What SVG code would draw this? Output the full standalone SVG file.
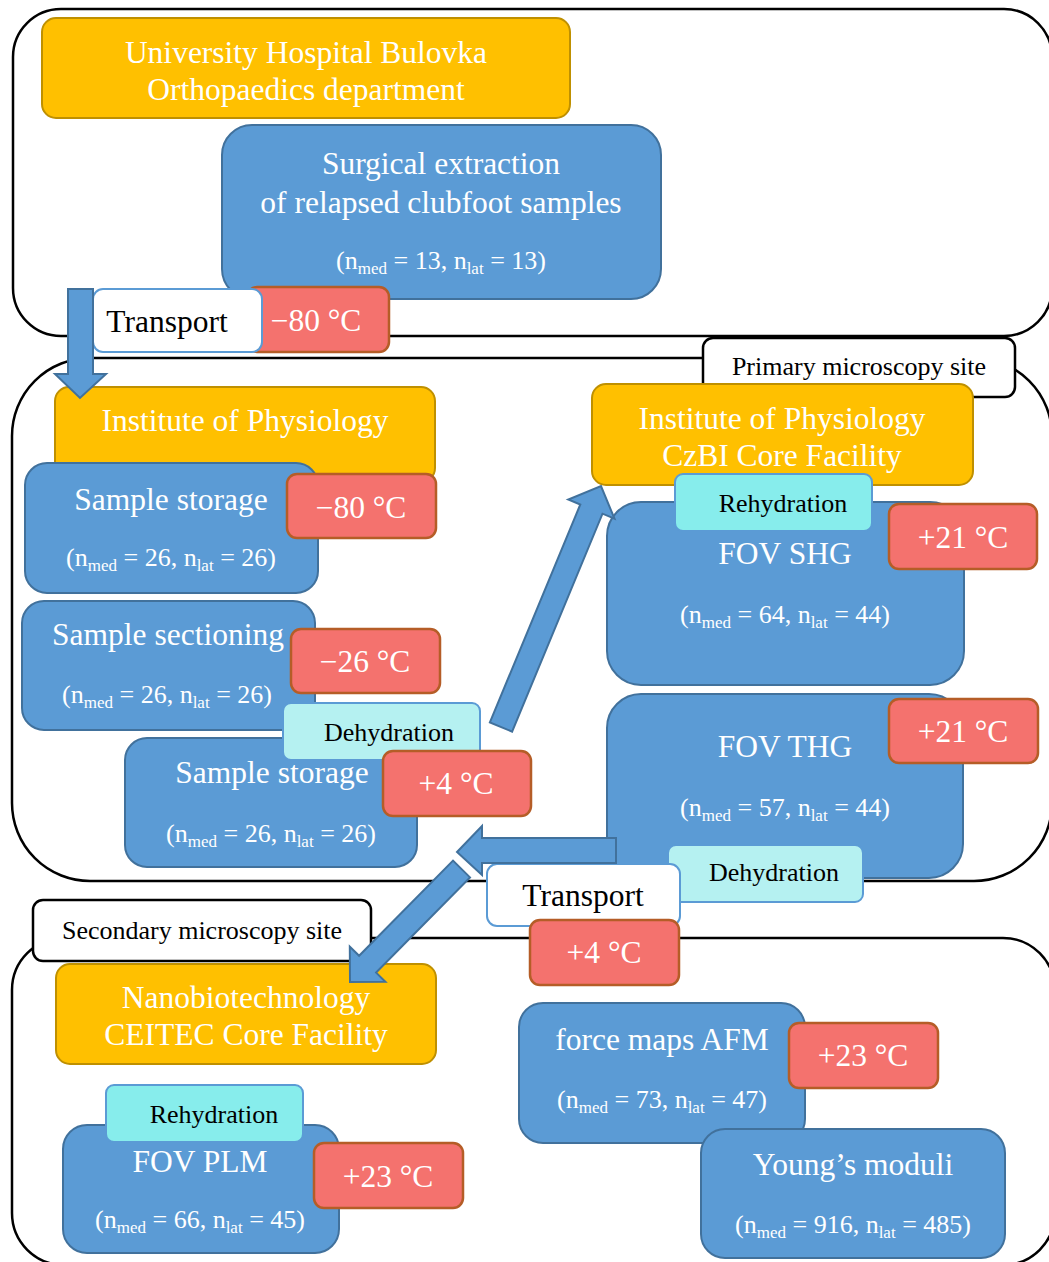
<svg xmlns="http://www.w3.org/2000/svg" width="1049" height="1262" viewBox="0 0 1049 1262">
<style>
text{font-family:"Liberation Serif","Times New Roman",serif}
.ctr{fill:none;stroke:#000;stroke-width:2.5}
.org{fill:#FFC000;stroke:#BF9000;stroke-width:2}
.blu{fill:#5B9BD5;stroke:#41719C;stroke-width:2}
.red{fill:#F4726E;stroke:#B55D27;stroke-width:2.5}
.deh{fill:#B5F1F1;stroke:#5B9BD5;stroke-width:2}
.reh{fill:#87EDEC;stroke:#5B9BD5;stroke-width:2}
.trn{fill:#fff;stroke:#5B9BD5;stroke-width:2}
.lbl{fill:#fff;stroke:#000;stroke-width:2.5}
.arr{fill:#5B9BD5;stroke:#41719C;stroke-width:2}
.tw{fill:#fff;font-size:31.5px;text-anchor:middle}
.tn{fill:#fff;font-size:26px;text-anchor:middle}
.tb{fill:#000;font-size:26px;text-anchor:middle}
.tk{fill:#000;font-size:31.5px;text-anchor:middle}
.sub{font-size:17px}
</style>
<rect width="1049" height="1262" fill="#fff"/>
<g id="containers">
<rect id="site-hospital" class="ctr" x="13" y="9" width="1039" height="327" rx="48"/>
<rect id="site-primary" class="ctr" x="12" y="358" width="1040" height="523" rx="78"/>
<rect id="site-secondary" class="ctr" x="12" y="938" width="1043" height="327" rx="52"/>
</g>

<g id="n-bulovka"><rect class="org" x="42" y="18" width="528" height="100" rx="14"/>
<text class="tw" x="306" y="63">University Hospital Bulovka</text>
<text class="tw" x="306" y="100">Orthopaedics department</text></g>

<g id="n-surgical"><rect class="blu" x="222" y="125" width="439" height="174" rx="30"/>
<text class="tw" x="441" y="174">Surgical extraction</text>
<text class="tw" x="441" y="213">of relapsed clubfoot samples</text>
<text class="tn" x="441" y="269">(n<tspan class="sub" dy="5">med</tspan><tspan dy="-5"> = 13, n</tspan><tspan class="sub" dy="5">lat</tspan><tspan dy="-5"> = 13)</tspan></text></g>

<g id="n-temp1"><rect class="red" x="247" y="287" width="142" height="65" rx="10"/>
<text class="tw" x="316" y="331">−80 °C</text></g>

<g id="n-transport1"><rect class="trn" x="93" y="289" width="169" height="63" rx="10"/>
<text class="tk" x="167" y="332">Transport</text></g>

<g id="n-primary-label"><rect class="lbl" x="703" y="338" width="312" height="59" rx="10"/>
<text class="tb" x="859" y="375">Primary microscopy site</text></g>

<g id="n-iop"><rect class="org" x="55" y="387" width="380" height="95" rx="14"/>
<text class="tw" x="245" y="431">Institute of Physiology</text></g>

<g id="n-storage1"><rect class="blu" x="25" y="463" width="293" height="130" rx="22"/>
<text class="tw" x="171" y="510">Sample storage</text>
<text class="tn" x="171" y="566">(n<tspan class="sub" dy="5">med</tspan><tspan dy="-5"> = 26, n</tspan><tspan class="sub" dy="5">lat</tspan><tspan dy="-5"> = 26)</tspan></text></g>

<g id="n-temp2"><rect class="red" x="287" y="474" width="149" height="64" rx="10"/>
<text class="tw" x="361" y="518">−80 °C</text></g>

<g id="n-sectioning"><rect class="blu" x="22" y="601" width="293" height="129" rx="22"/>
<text class="tw" x="168" y="645">Sample sectioning</text>
<text class="tn" x="167" y="703">(n<tspan class="sub" dy="5">med</tspan><tspan dy="-5"> = 26, n</tspan><tspan class="sub" dy="5">lat</tspan><tspan dy="-5"> = 26)</tspan></text></g>

<g id="n-temp3"><rect class="red" x="291" y="629" width="149" height="64" rx="10"/>
<text class="tw" x="365" y="672">−26 °C</text></g>

<g id="n-storage2"><rect class="blu" x="125" y="738" width="292" height="129" rx="22"/>
<text class="tw" x="272" y="783">Sample storage</text>
<text class="tn" x="271" y="842">(n<tspan class="sub" dy="5">med</tspan><tspan dy="-5"> = 26, n</tspan><tspan class="sub" dy="5">lat</tspan><tspan dy="-5"> = 26)</tspan></text></g>

<g id="n-dehydration1"><rect class="deh" x="283" y="703" width="197" height="57" rx="8"/>
<text class="tb" x="389" y="741">Dehydration</text></g>

<g id="n-temp4"><rect class="red" x="383" y="751" width="148" height="65" rx="10"/>
<text class="tw" x="456" y="794">+4 °C</text></g>

<g id="n-czbi"><rect class="org" x="592" y="384" width="381" height="101" rx="14"/>
<text class="tw" x="782" y="429">Institute of Physiology</text>
<text class="tw" x="782" y="466">CzBI Core Facility</text></g>

<g id="n-shg"><rect class="blu" x="607" y="502" width="357" height="183" rx="34"/>
<text class="tw" x="785" y="564">FOV SHG</text>
<text class="tn" x="785" y="623">(n<tspan class="sub" dy="5">med</tspan><tspan dy="-5"> = 64, n</tspan><tspan class="sub" dy="5">lat</tspan><tspan dy="-5"> = 44)</tspan></text></g>

<g id="n-rehydration1"><rect class="reh" x="675" y="474" width="197" height="57" rx="8"/>
<text class="tb" x="783" y="512">Rehydration</text></g>

<g id="n-temp5"><rect class="red" x="889" y="504" width="148" height="65" rx="10"/>
<text class="tw" x="963" y="548">+21 °C</text></g>

<g id="n-thg"><rect class="blu" x="607" y="694" width="356" height="184" rx="34"/>
<text class="tw" x="785" y="757">FOV THG</text>
<text class="tn" x="785" y="816">(n<tspan class="sub" dy="5">med</tspan><tspan dy="-5"> = 57, n</tspan><tspan class="sub" dy="5">lat</tspan><tspan dy="-5"> = 44)</tspan></text></g>

<g id="n-temp6"><rect class="red" x="889" y="699" width="149" height="64" rx="10"/>
<text class="tw" x="963" y="742">+21 °C</text></g>

<g id="n-dehydration2"><rect class="deh" x="668" y="845" width="195" height="57" rx="8"/>
<text class="tb" x="774" y="881">Dehydration</text></g>

<g id="n-transport2"><rect class="trn" x="487" y="864" width="193" height="62" rx="10"/>
<text class="tk" x="583" y="906">Transport</text></g>

<g id="n-temp7"><rect class="red" x="530" y="920" width="149" height="65" rx="10"/>
<text class="tw" x="604" y="963">+4 °C</text></g>

<g id="n-secondary-label"><rect class="lbl" x="33" y="900" width="338" height="61" rx="10"/>
<text class="tb" x="202" y="939">Secondary microscopy site</text></g>

<g id="n-ceitec"><rect class="org" x="56" y="964" width="380" height="100" rx="14"/>
<text class="tw" x="246" y="1008">Nanobiotechnology</text>
<text class="tw" x="246" y="1045">CEITEC Core Facility</text></g>

<g id="n-plm"><rect class="blu" x="63" y="1125" width="276" height="128" rx="24"/>
<text class="tw" x="200" y="1172">FOV PLM</text>
<text class="tn" x="200" y="1228">(n<tspan class="sub" dy="5">med</tspan><tspan dy="-5"> = 66, n</tspan><tspan class="sub" dy="5">lat</tspan><tspan dy="-5"> = 45)</tspan></text></g>

<g id="n-rehydration2"><rect class="reh" x="106" y="1085" width="197" height="57" rx="8"/>
<text class="tb" x="214" y="1123">Rehydration</text></g>

<g id="n-temp8"><rect class="red" x="314" y="1143" width="149" height="65" rx="10"/>
<text class="tw" x="388" y="1187">+23 °C</text></g>

<g id="n-afm"><rect class="blu" x="519" y="1003" width="286" height="140" rx="24"/>
<text class="tw" x="662" y="1050">force maps AFM</text>
<text class="tn" x="662" y="1108">(n<tspan class="sub" dy="5">med</tspan><tspan dy="-5"> = 73, n</tspan><tspan class="sub" dy="5">lat</tspan><tspan dy="-5"> = 47)</tspan></text></g>

<g id="n-temp9"><rect class="red" x="789" y="1023" width="149" height="65" rx="10"/>
<text class="tw" x="863" y="1066">+23 °C</text></g>

<g id="n-young"><rect class="blu" x="701" y="1129" width="304" height="129" rx="24"/>
<text class="tw" x="853" y="1175">Young’s moduli</text>
<text class="tn" x="853" y="1233">(n<tspan class="sub" dy="5">med</tspan><tspan dy="-5"> = 916, n</tspan><tspan class="sub" dy="5">lat</tspan><tspan dy="-5"> = 485)</tspan></text></g>

<g id="connectors">
<polygon class="arr" points="68,289 93,289 93,374 106,374 80,398 55,374 68,374"/>
<polygon class="arr" points="489.9,722.4 580.3,504.5 568.3,499.5 601,486 614.5,518.7 602.5,513.7 512.1,731.6"/>
<polygon class="arr" points="616,838 482,838 482,826 457,852 482,875 482,863 616,863"/>
<polygon class="arr" points="453,860.6 359.1,955.8 349.8,946.6 350,982 385.4,981.8 376.1,972.6 470,877.4"/>
</g>
</svg>
